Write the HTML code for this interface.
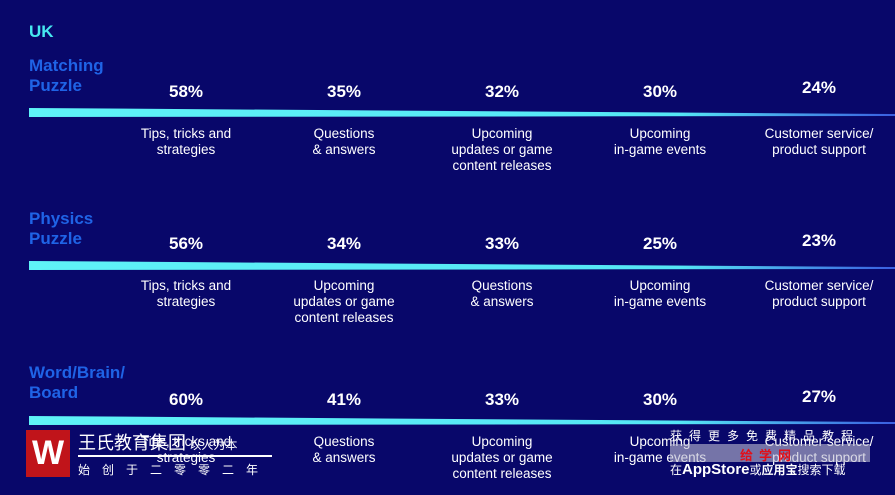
<!DOCTYPE html>
<html><head><meta charset="utf-8"><style>
body{margin:0;width:895px;height:495px;background:#08076a;overflow:hidden;position:relative;font-family:"Liberation Sans","Noto Sans CJK SC",sans-serif;}
.t{position:absolute;color:#fff;text-align:center;transform:translateX(-50%);white-space:nowrap}
.p{font-size:17px;font-weight:bold}
.d{font-size:13.5px;line-height:16px}
.h{position:absolute;left:29px;color:#1f63e6;font-weight:bold;font-size:17px;line-height:20px}
</style></head><body>
<div class="h" style="top:22px;color:#47e8f0;font-size:17px">UK</div>
<svg width="895" height="495" style="position:absolute;left:0;top:0">
<defs><linearGradient id="g" x1="0" x2="1"><stop offset="0" stop-color="#5ff3f7"/><stop offset="0.75" stop-color="#55e6f5"/><stop offset="1" stop-color="#3a5ee0"/></linearGradient></defs>
<polygon points="29,108 895,114 895,116 29,117" fill="url(#g)"/>
<polygon points="29,261 895,267 895,269 29,270" fill="url(#g)"/>
<polygon points="29,416 895,422 895,424 29,425" fill="url(#g)"/>
</svg>
<div class="h" style="top:56px">Matching<br>Puzzle</div>
<div class="h" style="top:209px">Physics<br>Puzzle</div>
<div class="h" style="top:363px">Word/Brain/<br>Board</div>

<div class="t p" style="left:186px;top:82px">58%</div>
<div class="t p" style="left:344px;top:82px">35%</div>
<div class="t p" style="left:502px;top:82px">32%</div>
<div class="t p" style="left:660px;top:82px">30%</div>
<div class="t p" style="left:819px;top:78px">24%</div>
<div class="t d" style="left:186px;top:126px">Tips, tricks and<br>strategies</div>
<div class="t d" style="left:344px;top:126px">Questions<br>&amp; answers</div>
<div class="t d" style="left:502px;top:126px">Upcoming<br>updates or game<br>content releases</div>
<div class="t d" style="left:660px;top:126px">Upcoming<br>in-game events</div>
<div class="t d" style="left:819px;top:126px">Customer service/<br>product support</div>

<div class="t p" style="left:186px;top:234px">56%</div>
<div class="t p" style="left:344px;top:234px">34%</div>
<div class="t p" style="left:502px;top:234px">33%</div>
<div class="t p" style="left:660px;top:234px">25%</div>
<div class="t p" style="left:819px;top:231px">23%</div>
<div class="t d" style="left:186px;top:278px">Tips, tricks and<br>strategies</div>
<div class="t d" style="left:344px;top:278px">Upcoming<br>updates or game<br>content releases</div>
<div class="t d" style="left:502px;top:278px">Questions<br>&amp; answers</div>
<div class="t d" style="left:660px;top:278px">Upcoming<br>in-game events</div>
<div class="t d" style="left:819px;top:278px">Customer service/<br>product support</div>

<div class="t p" style="left:186px;top:390px">60%</div>
<div class="t p" style="left:344px;top:390px">41%</div>
<div class="t p" style="left:502px;top:390px">33%</div>
<div class="t p" style="left:660px;top:390px">30%</div>
<div class="t p" style="left:819px;top:387px">27%</div>
<div class="t d" style="left:186px;top:434px">Tips, tricks and<br>strategies</div>
<div class="t d" style="left:344px;top:434px">Questions<br>&amp; answers</div>
<div class="t d" style="left:502px;top:434px">Upcoming<br>updates or game<br>content releases</div>
<div class="t d" style="left:660px;top:434px">Upcoming<br>in-game events</div>
<div class="t d" style="left:819px;top:434px">Customer service/<br>product support</div>

<div style="position:absolute;left:26px;top:430px;width:44px;height:47px;background:#c0141a;color:#fff;font-weight:bold;font-size:34px;line-height:47px;text-align:center">W</div>
<div style="position:absolute;left:78px;top:429px;color:#fff;font-size:18px;white-space:nowrap">王氏教育集团<span style="font-size:12px"> 以人为本</span></div>
<div style="position:absolute;left:78px;top:455px;width:194px;height:2px;background:#fff"></div>
<div style="position:absolute;left:78px;top:461px;color:#fff;font-size:12px;letter-spacing:12px;white-space:nowrap">始创于二零零二年</div>
<div style="position:absolute;left:670px;top:444px;width:200px;height:18px;background:rgba(190,190,210,0.6)"></div>
<div style="position:absolute;left:740px;top:445px;color:#e0101a;font-weight:bold;font-size:13px;letter-spacing:6px">给学网</div>
<div style="position:absolute;left:670px;top:427px;color:#fff;font-size:12px;letter-spacing:7px;white-space:nowrap">获得更多免费精品教程</div>
<div style="position:absolute;left:670px;top:461px;color:#fff;font-size:12px;white-space:nowrap">在<b style="font-size:15px">AppStore</b>或<b>应用宝</b>搜索下载</div>
</body></html>
